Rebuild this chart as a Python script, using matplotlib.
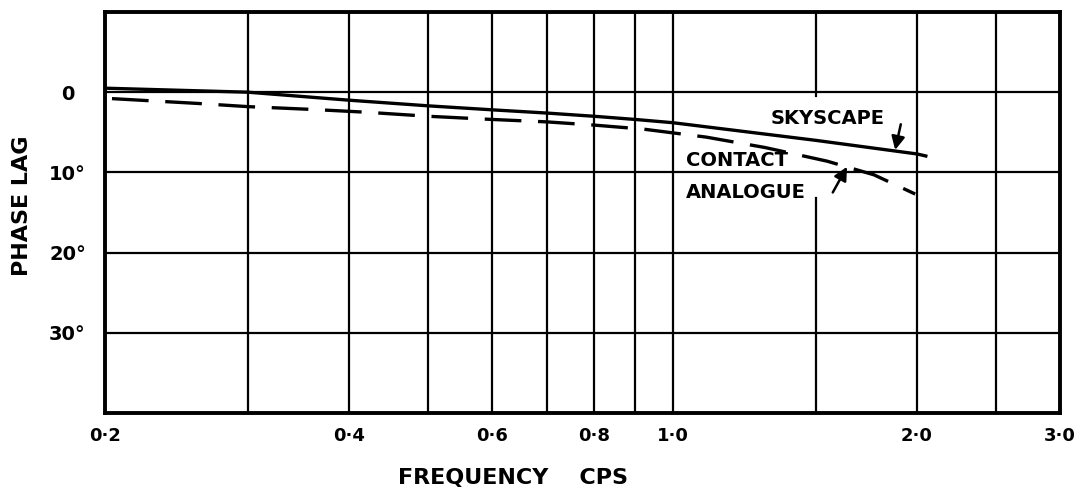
import matplotlib.pyplot as plt
from matplotlib.ticker import FixedLocator, NullFormatter

# phase lag vs frequency (log axis)
skyscape_freq = [0.2, 0.3, 0.4, 0.5, 0.6, 0.7, 0.8, 0.9, 1.0, 1.5, 2.0, 2.06]
skyscape_lag = [-0.5, 0.0, 1.0, 1.7, 2.2, 2.6, 3.0, 3.4, 3.8, 6.0, 7.7, 8.0]

contact_freq = [0.204, 0.26, 0.3, 0.36, 0.42, 0.5, 0.6, 0.7, 0.8, 0.92,
                1.1, 1.3, 1.55, 1.77, 1.99]
contact_lag = [0.8, 1.4, 1.8, 2.15, 2.5, 3.0, 3.4, 3.7, 4.1, 4.6,
               5.6, 6.9, 8.6, 10.3, 12.7]

major_freqs = [0.2, 0.4, 0.6, 0.8, 1.0, 2.0, 3.0]
major_labels = ["0·2", "0·4", "0·6", "0·8", "1·0", "2·0", "3·0"]
minor_freqs = [0.3, 0.5, 0.7, 0.9, 1.5, 2.5]
lag_ticks = [0, 10, 20, 30]
lag_labels = ["0", "10°", "20°", "30°"]

plt.rcParams['font.family'] = 'DejaVu Sans'
plt.rcParams['font.weight'] = 'bold'

fig = plt.figure(figsize=(10.87, 4.9), dpi=100)
ax = fig.add_axes([105 / 1087, 77 / 490, 955 / 1087, 401 / 490])
ax.set_xscale('log')
ax.set_xlim(0.2, 3.0)
ax.set_ylim(40, -10)

# hand drawn grid
grid_kw = dict(color='black', lw=1.6, zorder=1)
for f in major_freqs[1:-1] + minor_freqs:
    if f == 1.5:
        # this line is broken where the labels sit
        ax.plot([f, f], [-10, 0.5], **grid_kw)
        ax.plot([f, f], [13.2, 40], **grid_kw)
    else:
        ax.plot([f, f], [-10, 40], **grid_kw)
for lag in lag_ticks:
    ax.plot([0.2, 3.0], [lag, lag], **grid_kw)

ax.plot(skyscape_freq, skyscape_lag, color='black', lw=2.4, zorder=3,
        solid_capstyle='butt')
ax.plot(contact_freq, contact_lag, color='black', lw=2.4, zorder=3,
        ls=(0, (11, 5)))

ax.xaxis.set_major_locator(FixedLocator(major_freqs))
ax.set_xticklabels(major_labels)
ax.xaxis.set_minor_locator(FixedLocator(minor_freqs))
ax.xaxis.set_minor_formatter(NullFormatter())
ax.set_yticks(lag_ticks)
ax.set_yticklabels(lag_labels)
ax.tick_params(which='both', length=0)
ax.tick_params(axis='x', pad=10, labelsize=13)
ax.tick_params(axis='y', pad=27, labelsize=14)
for lbl in ax.get_yticklabels():
    lbl.set_horizontalalignment('center')
for sp in ax.spines.values():
    sp.set_linewidth(2.8)

# labels on the curves
ax.text(1.32, 3.3, "SKYSCAPE", fontsize=14, fontweight='bold', va='center')
ax.text(1.04, 8.5, "CONTACT", fontsize=14, fontweight='bold', va='center')
ax.text(1.04, 12.5, "ANALOGUE", fontsize=14, fontweight='bold', va='center')
arrow_kw = dict(arrowstyle='-|>', color='black', lw=1.8, mutation_scale=20,
                shrinkA=0, shrinkB=0)
ax.annotate("", xy=(1.88, 7.2), xytext=(1.91, 4.0), arrowprops=arrow_kw)
ax.annotate("", xy=(1.64, 9.3), xytext=(1.575, 12.5), arrowprops=arrow_kw)

fig.text(513 / 1087, 1 - 478 / 490, "FREQUENCY    CPS", fontsize=16,
         fontweight='bold', ha='center', va='center')
fig.text(22 / 1087, 1 - 206 / 490, "PHASE LAG", fontsize=16,
         fontweight='bold', ha='center', va='center', rotation=90)

fig.savefig('out.png', dpi=100)
